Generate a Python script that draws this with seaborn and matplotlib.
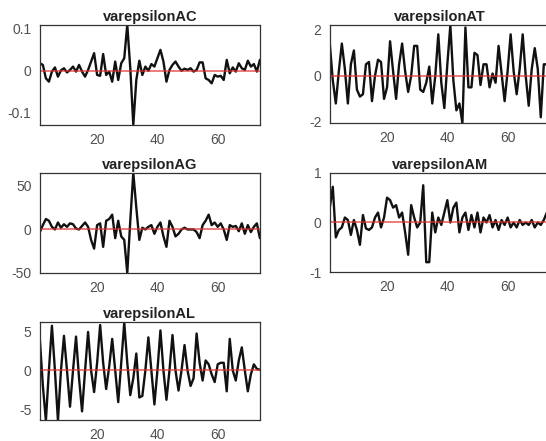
import numpy as np
import pandas as pd
import matplotlib
matplotlib.use("Agg")
import matplotlib.pyplot as plt
import seaborn as sns

# sample index
t = np.arange(1, 75)

eps_ac = [0.018, 0.014, -0.018, -0.026, -0.002, 0.008, -0.014, 0.001, 0.006, -0.004,
          0.002, 0.010, -0.002, 0.014, -0.002, -0.014, 0.002, 0.022, 0.042, -0.010,
          -0.012, 0.040, -0.010, -0.002, -0.026, 0.022, -0.022, 0.018, 0.030, 0.110,
          0.006, -0.129, -0.022, 0.024, -0.010, 0.010, 0.000, 0.016, 0.010, 0.030,
          0.050, 0.022, -0.026, 0.002, 0.014, 0.022, 0.010, 0.000, 0.005, 0.002,
          0.006, -0.002, 0.002, 0.020, 0.020, -0.018, -0.022, -0.030, -0.010, -0.014,
          -0.012, -0.022, 0.026, -0.006, 0.008, -0.002, 0.018, 0.006, 0.002, 0.024,
          0.010, 0.016, -0.002, 0.026]

eps_at = [1.4, -0.2, -1.2, 0.2, 1.4, 0.3, -1.2, 0.5, 1.1, -0.6,
          -0.9, -0.8, 0.5, 0.6, -1.1, 0.0, 0.7, 0.6, -1.0, -0.5,
          1.5, 0.2, -1.0, 0.5, 1.4, 0.2, -0.7, 0.0, 1.3, 1.3,
          -0.6, -0.7, -0.3, 0.4, -1.2, 0.0, 1.8, -0.3, -1.4, 0.5,
          2.2, -0.2, -1.5, -1.2, -2.05, 2.1, -0.5, -0.5, 1.0, 0.9,
          -0.4, 0.5, 0.5, -0.5, 0.1, -0.3, 1.3, 0.1, -1.1, 0.2,
          1.8, 0.2, -0.8, 0.3, 1.8, 0.0, -1.3, 0.3, 1.2, 0.3,
          -1.8, 0.5, 0.5, 0.0]

eps_ag = [-3, 5, 12, 10, 3, 0, 8, 2, 6, 3,
          7, 6, 1, 0, 4, 8, 3, -12, -22, 5,
          7, -20, 10, 12, 17, -10, 10, -8, -12, -50,
          10, 65, 25, -12, 2, 0, 3, 5, -5, 3,
          8, -8, -20, 10, 3, -8, -5, 0, 2, 0,
          0, 0, -3, -10, 5, 10, 17, 5, 8, 3,
          7, 0, -12, 5, 3, 4, -2, 7, -5, 5,
          -3, 3, 7, -10]

eps_am = [0.3, 0.72, -0.3, -0.15, -0.1, 0.1, 0.05, -0.25, 0.05, -0.15,
          -0.45, 0.15, -0.12, -0.15, -0.1, 0.1, 0.2, -0.1, 0.1, 0.5,
          0.45, 0.3, 0.35, 0.1, 0.2, -0.2, -0.65, 0.35, 0.1, -0.1,
          0.0, 0.75, -0.8, -0.8, 0.2, -0.2, 0.1, -0.05, 0.2, 0.45,
          0.0, 0.3, 0.4, -0.2, 0.1, 0.2, -0.15, 0.15, -0.1, 0.2,
          -0.2, 0.1, 0.0, 0.15, -0.1, 0.05, -0.15, 0.05, -0.05, 0.1,
          -0.1, 0.0, -0.1, 0.05, -0.05, 0.0, -0.05, 0.05, -0.1, 0.0,
          -0.05, 0.05, 0.2, 0.1]

eps_al = [4.0, -2.0, -6.5, 0.0, 5.8, 0.0, -6.5, 0.0, 4.5, 0.0,
          -4.7, 0.0, 4.4, -1.0, -5.3, 0.0, 5.0, 0.0, -2.8, 1.0,
          5.9, 1.0, -2.4, 0.5, 4.1, 0.0, -4.1, 1.0, 6.2, 1.0,
          -3.2, -1.0, 2.2, -3.5, -3.3, 0.0, 4.3, 0.0, -4.4, 0.0,
          5.2, 0.0, -3.8, 0.0, 4.6, 0.0, -2.6, 0.0, 3.3, 0.0,
          -2.0, -1.0, 4.8, 1.0, -1.3, 1.3, 0.8, -0.5, -1.5, 0.8,
          1.0, 1.0, -2.7, 4.1, 0.0, -1.3, 1.3, 3.0, 0.0, -2.7,
          -0.5, 0.8, 0.2, 0.1]

titles = ["varepsilonAC", "varepsilonAT", "varepsilonAG", "varepsilonAM", "varepsilonAL"]
series = [eps_ac, eps_at, eps_ag, eps_am, eps_al]
yticks = [[-0.1, 0, 0.1], [-2, 0, 2], [-50, 0, 50], [-1, 0, 1], [-5, 0, 5]]
ylims = [(-0.129, 0.11), (-2.05, 2.2), (-50, 65), (-1, 1), (-6.4, 6.3)]

sns.set_style("white")
plt.rcParams['font.family'] = ['Liberation Sans', 'DejaVu Sans']

fig = plt.figure(figsize=(5.46, 4.41), dpi=100)

# axes boxes in figure fractions (matlab subplot 3x2, right column cut off)
boxes = [
    [0.073, 0.717, 0.403, 0.227],
    [0.604, 0.721, 0.403, 0.222],
    [0.073, 0.381, 0.403, 0.227],
    [0.604, 0.383, 0.403, 0.225],
    [0.073, 0.048, 0.403, 0.222],
]

for i in range(5):
    ax = fig.add_axes(boxes[i])
    df = pd.DataFrame({"t": t, "v": series[i]})
    sns.lineplot(data=df, x="t", y="v", ax=ax, color="#111111", linewidth=1.7)
    ax.axhline(0, color="#e03030", linewidth=1.1, alpha=0.8)
    ax.set_xlim(1, 74)
    ax.set_ylim(ylims[i])
    ax.set_xticks([20, 40, 60])
    ax.set_yticks(yticks[i])
    ax.set_yticklabels([f"{v:g}" for v in yticks[i]])
    ax.set_xlabel("")
    ax.set_ylabel("")
    ax.set_title(titles[i], fontsize=10.5, fontweight="bold", pad=3, color="#222222")
    ax.tick_params(direction="in", length=3, width=0.6, labelsize=10,
                   colors="#505050", pad=6)
    for s in ax.spines.values():
        s.set_visible(True)
        s.set_color("#333333")
        s.set_linewidth(0.9)

plt.savefig("out.png", dpi=100)
